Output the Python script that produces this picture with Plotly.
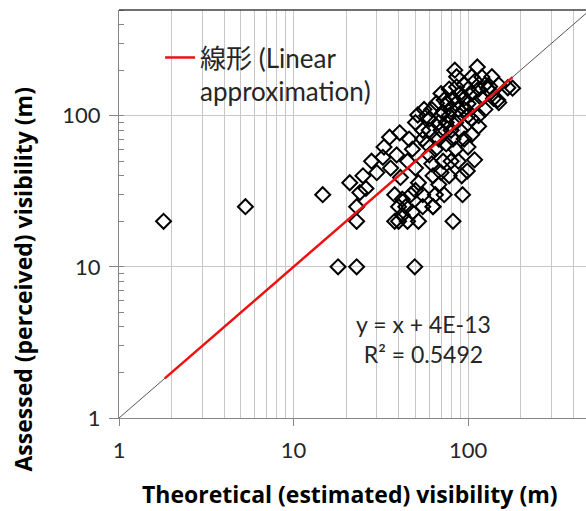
import numpy as np
import plotly.graph_objects as go

# Observed data: theoretical (estimated) vs assessed (perceived) visibility (m)
theoretical = [1.8, 5.3, 14.7, 18, 23, 49.5, 21, 25, 24, 23, 23, 26,
               32.5, 35.5, 40.6, 39, 41, 36, 30, 28, 33, 38, 40, 42, 44, 45, 40, 38, 42, 47, 48, 52, 55, 50, 52, 55,
               45, 48, 50, 46, 51.5, 56, 58, 60, 66, 73, 55, 58, 60, 62, 63, 65, 63, 68, 70, 72, 65, 68, 70, 75, 78,
               80, 72, 76, 82, 86, 86, 84, 90, 95, 100, 105, 113, 110, 120, 125, 130, 137, 133, 150, 169, 180, 148,
               150, 140, 120, 110, 100, 95, 90, 100, 105, 115, 125, 85, 80, 90, 95, 100, 109, 99, 105, 115, 85, 80,
               78, 73, 93, 82, 63, 75, 88, 92, 82, 70, 60, 55, 50, 62, 68, 85, 95, 78, 70, 105, 115, 88]
assessed = [20, 25, 30, 10, 10, 10, 36, 40, 31, 25, 20, 33,
            53, 72, 77, 55, 39, 45, 42, 50, 62, 20, 20, 22, 25, 20, 25, 30, 28, 30, 23, 20, 25, 32, 36, 30,
            50, 60, 45, 70, 101, 110, 100, 95, 121, 127, 80, 65, 55, 48, 40, 30, 25, 35, 42, 50, 60, 70, 80, 90, 100,
            110, 105, 120, 130, 181, 155, 200, 140, 160, 150, 181, 210, 170, 180, 160, 150, 181, 156, 160, 153, 152, 127,
            122, 130, 130, 120, 120, 110, 100, 100, 95, 100, 110, 90, 80, 80, 70, 62, 51, 43, 75, 85, 60, 50,
            40, 30, 30, 20, 25, 65, 50, 40, 70, 100, 80, 70, 90, 110, 90, 120, 130, 150, 140, 140, 150, 110]

# Reference line y = x
diag_x = [1, 500]
diag_y = [1, 500]

# Linear approximation y = x + 4E-13
trend_x = [1.83, 180]
trend_y = [v + 4e-13 for v in trend_x]

x_ticks = [1, 10, 100]
y_ticks = [1, 10, 100]

FONT = "Lato, 'Noto Sans CJK JP', sans-serif"
TFONT = "'Open Sans', Lato, sans-serif"
TXT = "#262626"

fig = go.Figure()
fig.add_trace(go.Scatter(x=diag_x, y=diag_y, mode="lines",
                         line=dict(color="#555555", width=1), showlegend=False, hoverinfo="skip"))
fig.add_trace(go.Scatter(x=theoretical, y=assessed, mode="markers",
                         marker=dict(symbol="diamond-open", size=11.5, color="black",
                                     line=dict(width=2, color="black")),
                         showlegend=False))
fig.add_trace(go.Scatter(x=trend_x, y=trend_y, mode="lines",
                         line=dict(color="#ee1111", width=2.5),
                         name="線形 (Linear<br>approximation)", showlegend=True))

fig.update_xaxes(type="log", range=[0, 2.676], showline=True, linecolor="#868686", linewidth=1,
                 tickvals=x_ticks, ticktext=[str(v) for v in x_ticks],
                 ticks="outside", ticklen=7, tickcolor="#868686",
                 showgrid=True, gridcolor="#c8c8c8", gridwidth=1,
                 minor=dict(dtick="D1", showgrid=True, gridcolor="#c8c8c8", gridwidth=1, ticks=""),
                 tickfont=dict(family=FONT, size=22, color=TXT), zeroline=False,
                 ticklabelstandoff=6)
fig.update_yaxes(type="log", range=[0, np.log10(500)], showline=True, linecolor="#868686", linewidth=1,
                 tickvals=y_ticks, ticktext=[str(v) for v in y_ticks],
                 ticks="outside", ticklen=9, tickcolor="#868686",
                 showgrid=True, gridcolor="#c8c8c8", gridwidth=1,
                 minor=dict(dtick="D1", showgrid=False, ticks="inside", ticklen=5, tickcolor="#868686"),
                 tickfont=dict(family=FONT, size=22, color=TXT), zeroline=False,
                 ticklabelstandoff=4)

fig.add_shape(type="line", xref="paper", yref="paper", x0=0, x1=1, y0=1, y1=1,
              line=dict(color="#404040", width=1.5))

fig.add_annotation(text="<b>Theoretical (estimated) visibility (m)</b>", xref="paper", yref="paper",
                   x=0.495, y=-0.186, xanchor="center", yanchor="middle", showarrow=False,
                   font=dict(family=TFONT, size=23, color="black"))
fig.add_annotation(text="<b>Assessed (perceived) visibility (m)</b>", xref="paper", yref="paper",
                   x=-0.205, y=0.34, xanchor="center", yanchor="middle", showarrow=False, textangle=-90,
                   font=dict(family=TFONT, size=23, color="black"))
fig.add_annotation(text="y = x + 4E-13<br>R² = 0.5492", xref="paper", yref="paper",
                   x=0.651, y=0.194, xanchor="center", yanchor="middle", showarrow=False,
                   font=dict(family=FONT, size=23, color=TXT), align="center")

fig.update_layout(width=586, height=511, margin=dict(l=119, r=0, t=10, b=93),
                  plot_bgcolor="white", paper_bgcolor="white",
                  legend=dict(x=0.088, y=0.941, xanchor="left", yanchor="top", bgcolor="rgba(0,0,0,0)",
                              font=dict(family=FONT, size=26, color=TXT), valign="top",
                              itemwidth=30, tracegroupgap=0),
                  showlegend=True)

fig.write_html("out.html", config={"displayModeBar": False},
               post_script="document.body.style.margin='0';document.body.style.padding='0';")
